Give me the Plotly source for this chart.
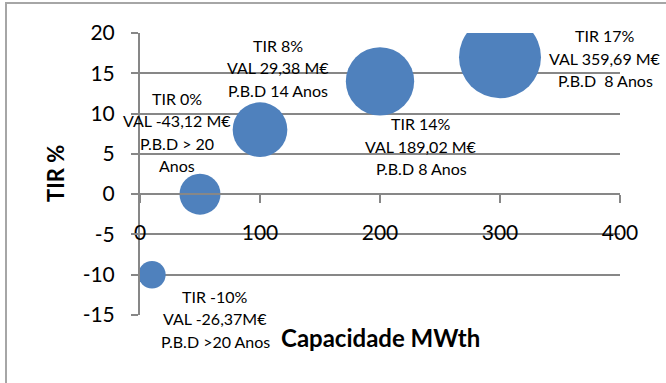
import plotly.graph_objects as go

# Solar thermal plant scenarios: capacity vs. internal rate of return
capacity_mwth = [10, 50, 100, 200, 300]
tir_pct = [-10, 0, 8, 14, 17]
val_meur = [-26.37, -43.12, 29.38, 189.02, 359.69]
bubble_size = [2, 3, 4, 5, 6]

val_lines = ["VAL -26,37M€", "VAL -43,12 M€", "VAL 29,38 M€", "VAL 189,02 M€", "VAL 359,69 M€"]
pbd_lines = [["P.B.D >20 Anos"], ["P.B.D > 20", "Anos"], ["P.B.D 14 Anos"], ["P.B.D 8 Anos"], ["P.B.D  8 Anos"]]

x_ticks = [0, 100, 200, 300, 400]
y_ticks = [-15, -10, -5, 0, 5, 10, 15, 20]

# label block offsets (pixels) from each bubble centre
label_shift = [(63, -44), (-23, 62), (18, 62), (41, -65), (105, -1)]
LINE_GAP = 22.5

FONT = "Lato"
GRID = "#878787"
BLUE = "#4F81BD"

fig = go.Figure()
fig.add_trace(go.Scatter(
    x=capacity_mwth, y=tir_pct, mode="markers",
    marker=dict(size=bubble_size, sizemode="diameter", sizeref=6 / 82,
                color=BLUE, line=dict(width=0), opacity=1),
    customdata=val_meur, hoverinfo="x+y",
    showlegend=False,
))

annotations = []
for cap, tir, vl, pl, (dx, dy) in zip(capacity_mwth, tir_pct, val_lines, pbd_lines, label_shift):
    lines = [f"TIR {tir}%", vl] + pl
    n = len(lines)
    for i, line in enumerate(lines):
        annotations.append(dict(
            x=cap, y=tir, xref="x", yref="y",
            xshift=dx, yshift=dy + ((n - 1) / 2 - i) * LINE_GAP,
            text=line, showarrow=False,
            xanchor="center", yanchor="middle", align="center",
            font=dict(family=FONT, size=16, color="#000000"),
        ))

# axis titles
annotations.append(dict(
    x=(380 - 140) / 480, y=(315 - 337) / 282, xref="paper", yref="paper",
    text="<b>Capacidade MWth</b>", showarrow=False, xanchor="center", yanchor="middle",
    font=dict(family=FONT, size=24, color="#000000"),
))
annotations.append(dict(
    x=(55 - 140) / 480, y=(315 - 174) / 282, xref="paper", yref="paper",
    text="<b>TIR %</b>", showarrow=False, textangle=-90, xanchor="center", yanchor="middle",
    font=dict(family=FONT, size=22, color="#000000"),
))

fig.update_layout(
    width=666, height=383,
    margin=dict(l=140, r=46, t=33, b=68, pad=0),
    paper_bgcolor="white", plot_bgcolor="white",
    font=dict(family=FONT, color="#000000"),
    annotations=annotations,
    shapes=[dict(type="rect", xref="paper", yref="paper",
                 x0=(6 - 140) / 480, x1=1.3, y0=-0.5, y1=(315 - 3) / 282,
                 line=dict(color="#A6A6A6", width=2), layer="below")],
    xaxis=dict(
        range=[0, 400], tickvals=x_ticks, ticktext=[str(v) for v in x_ticks],
        showgrid=False, zeroline=False,
        showline=True, linecolor=GRID, linewidth=2,
        ticks="outside", ticklen=8, tickwidth=2, tickcolor=GRID,
        anchor="free", position=15 / 35, ticklabelstandoff=12,
        tickfont=dict(family=FONT, size=21, color="#000000"),
        fixedrange=True,
    ),
    yaxis=dict(
        range=[-15, 20], tickvals=y_ticks, ticktext=[str(v) for v in y_ticks],
        showgrid=True, gridcolor=GRID, gridwidth=2, zeroline=False,
        showline=True, linecolor=GRID, linewidth=2,
        ticks="outside", ticklen=7, tickwidth=2, tickcolor=GRID,
        ticklabelstandoff=12,
        tickfont=dict(family=FONT, size=21, color="#000000"),
        fixedrange=True,
    ),
)

fig.write_html("out.html")
